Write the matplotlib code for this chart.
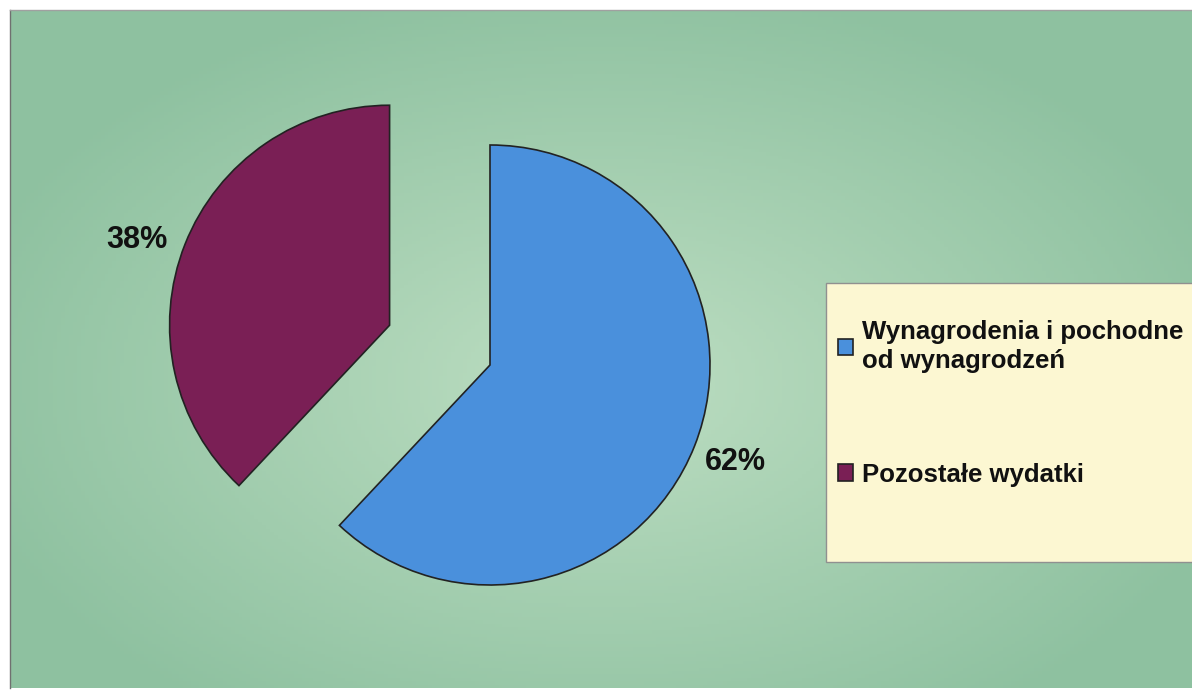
import numpy as np
import matplotlib.pyplot as plt
from matplotlib.patches import Rectangle

plt.rcParams['font.family'] = ['Liberation Sans', 'DejaVu Sans']

# data
labels = ['Wynagrodenia i pochodne\nod wynagrodzeń', 'Pozostałe wydatki']
shares = [62, 38]
colors = ['#4a90dc', '#7a1f55']

W, H = 1192, 690
fig = plt.figure(figsize=(W / 100, H / 100), dpi=100)
fig.patch.set_facecolor('white')
ax = fig.add_axes([0, 0, 1, 1])

# green background with a lighter middle
yy, xx = np.mgrid[0:1:200j, 0:1:300j]
d = np.sqrt(((xx - 0.5) / 0.75) ** 2 + ((yy - 0.45) / 0.8) ** 2)
d = np.clip(d / 0.75, 0, 1)
c_in = np.array([0xbd, 0xde, 0xc2]) / 255
c_out = np.array([0x8e, 0xc1, 0xa0]) / 255
img = c_in[None, None, :] * (1 - d[..., None]) + c_out[None, None, :] * d[..., None]
ax.imshow(img, extent=[10, W, 2, H - 10], origin='lower', aspect='auto', zorder=0)
ax.plot([10, 10], [2, H - 10], color='#707070', lw=1, zorder=1)
ax.plot([10, W], [H - 10, H - 10], color='#a0a0a0', lw=1, zorder=1)

# pie (explode is in data units here since radius != 1)
wedges, texts, autotexts = ax.pie(
    shares, colors=colors, startangle=90, counterclock=False,
    explode=[0, 108], center=(490, 325), radius=220, frame=True,
    autopct='%1.0f%%', pctdistance=1.2,
    wedgeprops=dict(edgecolor='#222222', linewidth=1.2),
    textprops=dict(fontsize=22, fontweight='bold', color='#111111'))
for w in wedges:
    w.set_zorder(2)
# nudge the 38% label a bit lower, like the original
px, py = autotexts[1].get_position()
autotexts[1].set_position((px - 7, py - 12))
ax.set_xlim(0, W)
ax.set_ylim(0, H)
ax.set_aspect('equal')
ax.axis('off')

# legend box
ax.add_patch(Rectangle((826, 128), 380, 279, facecolor='#fcf7d2',
                       edgecolor='#909090', lw=1, zorder=3))
leg = ax.legend(wedges, labels, loc='upper left', bbox_to_anchor=(838, 370),
                bbox_transform=ax.transData, frameon=False,
                prop=dict(size=18.5, weight='bold'), handlelength=0.6,
                handleheight=0.6, handletextpad=0.35, labelspacing=3.5,
                borderpad=0, borderaxespad=0)
leg.set_zorder(4)
for t in leg.get_texts():
    t.set_color('#111111')
    t.set_linespacing(1.25)

fig.savefig('out.png', dpi=100)
